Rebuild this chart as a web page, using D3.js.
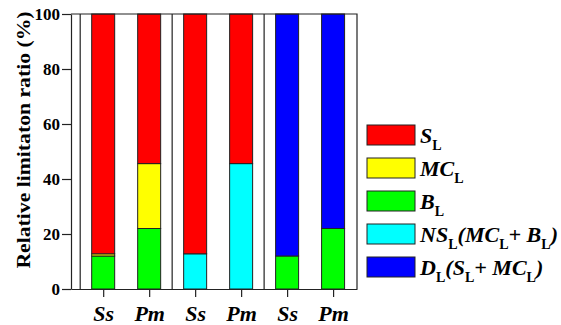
<!DOCTYPE html>
<html lang="en">
<head>
  <meta charset="UTF-8" />
  <title>Relative limitation ratio</title>
  <script src="https://cdn.jsdelivr.net/npm/d3@7"></script>
  <style>
    body { margin: 0; background: #fff; }
    text { font-family: "Liberation Serif", "Times New Roman", serif; font-weight: bold; }
  </style>
</head>
<body>
  <svg id="chart" width="561" height="325"></svg>
  <script>
    // data (percent)
    let categories = ["Ss", "Pm", "Ss", "Pm", "Ss", "Pm"];
    let BL = [12, 22, 0, 0, 12, 22];
    let MCL = [0.8, 23.6, 0, 0, 0, 0];
    let NSL = [0, 0, 12.8, 45.6, 0, 0];
    let SL = [87.2, 54.4, 87.2, 54.4, 0, 0];
    let DL = [0, 0, 0, 0, 88, 78];
    let yTicks = [0, 20, 40, 60, 80, 100];
    let separators = [0.5, 2.5, 4.5];

    let keys = ["BL", "MCL", "NSL", "SL", "DL"];
    let colors = { SL: "#ff0000", MCL: "#ffff00", BL: "#00ff00", NSL: "#00ffff", DL: "#0000ff" };
    // legend labels: [main, subscript] pieces
    let legendItems = [
      { key: "SL", parts: [["S", "L"]] },
      { key: "MCL", parts: [["MC", "L"]] },
      { key: "BL", parts: [["B", "L"]] },
      { key: "NSL", parts: [["NS", "L"], ["(MC", "L"], ["+ B", "L"], [")", ""]] },
      { key: "DL", parts: [["D", "L"], ["(S", "L"], ["+ MC", "L"], [")", ""]] }
    ];

    let table = categories.map(function (c, i) {
      return { pos: i + 1, cat: c, BL: BL[i], MCL: MCL[i], NSL: NSL[i], SL: SL[i], DL: DL[i] };
    });

    let svg = d3.select("#chart");
    let mLeft = 71, mRight = 357, mTop = 14, mBottom = 289;
    let serif = "'Liberation Serif', 'Times New Roman', serif";

    let x = d3.scaleLinear().domain([0.3, 6.52]).range([mLeft, mRight]);
    let y = d3.scaleLinear().domain([0, 100]).range([mBottom, mTop]);
    let barW = x(1.5) - x(1);

    let series = d3.stack().keys(keys)(table);

    // bars
    svg.append("g")
      .selectAll("g")
      .data(series)
      .join("g")
      .attr("fill", function (s) { return colors[s.key]; })
      .selectAll("rect")
      .data(function (s) { return s.filter(function (d) { return d[1] - d[0] > 0; }); })
      .join("rect")
      .attr("x", function (d) { return x(d.data.pos) - barW / 2; })
      .attr("width", barW)
      .attr("y", function (d) { return y(d[1]); })
      .attr("height", function (d) { return y(d[0]) - y(d[1]); })
      .attr("stroke", "#222")
      .attr("stroke-width", 1);

    // group separators and frame
    svg.append("g")
      .selectAll("line")
      .data(separators)
      .join("line")
      .attr("x1", function (d) { return x(d); })
      .attr("x2", function (d) { return x(d); })
      .attr("y1", mTop)
      .attr("y2", mBottom)
      .attr("stroke", "#222")
      .attr("stroke-width", 1.2);
    svg.append("path")
      .attr("d", "M" + mLeft + "," + mTop + "H" + mRight + "V" + mBottom)
      .attr("fill", "none")
      .attr("stroke", "#222")
      .attr("stroke-width", 1.2);

    // axes
    let yAxis = svg.append("g")
      .attr("transform", "translate(" + mLeft + ",0)")
      .call(d3.axisLeft(y).tickValues(yTicks).tickSize(9).tickSizeOuter(0).tickPadding(2));
    let xAxis = svg.append("g")
      .attr("transform", "translate(0," + mBottom + ")")
      .call(d3.axisBottom(x).tickValues(table.map(function (d) { return d.pos; }))
        .tickFormat(function (d) { return categories[d - 1]; })
        .tickSize(8).tickSizeOuter(0).tickPadding(8));
    [yAxis, xAxis].forEach(function (a) {
      a.attr("font-family", serif).attr("font-weight", "bold");
      a.select(".domain").attr("stroke", "#222").attr("stroke-width", 1.2);
      a.selectAll(".tick line").attr("stroke", "#222").attr("stroke-width", 1.2);
      a.selectAll("text").attr("fill", "#000");
    });
    yAxis.attr("font-size", 17);
    xAxis.attr("font-size", 22).attr("font-style", "italic");

    // y title (slightly narrowed like the source figure)
    svg.append("text")
      .attr("transform", "translate(30,140) rotate(-90) scale(1,0.87)")
      .attr("text-anchor", "middle")
      .attr("font-family", serif)
      .attr("font-size", 21.7)
      .text("Relative limitaton ratio (%)");

    // legend
    let legend = svg.append("g")
      .selectAll("g")
      .data(legendItems)
      .join("g")
      .attr("transform", function (d, i) { return "translate(367," + (125 + i * 33) + ")"; });
    legend.append("rect")
      .attr("width", 48)
      .attr("height", 20)
      .attr("fill", function (d) { return colors[d.key]; })
      .attr("stroke", "#222")
      .attr("stroke-width", 1);
    let lt = legend.append("text")
      .attr("x", 53)
      .attr("y", 18)
      .attr("font-family", serif)
      .attr("font-size", 22);
    lt.each(function (d) {
      let t = d3.select(this);
      d.parts.forEach(function (p) {
        t.append("tspan").attr("font-style", "italic").text(p[0]);
        if (p[1]) {
          t.append("tspan").attr("font-size", 14).attr("dy", 7).text(p[1]);
          t.append("tspan").attr("font-size", 1).attr("dy", -7).text("\u200a");
        }
      });
    });
  </script>
</body>
</html>
